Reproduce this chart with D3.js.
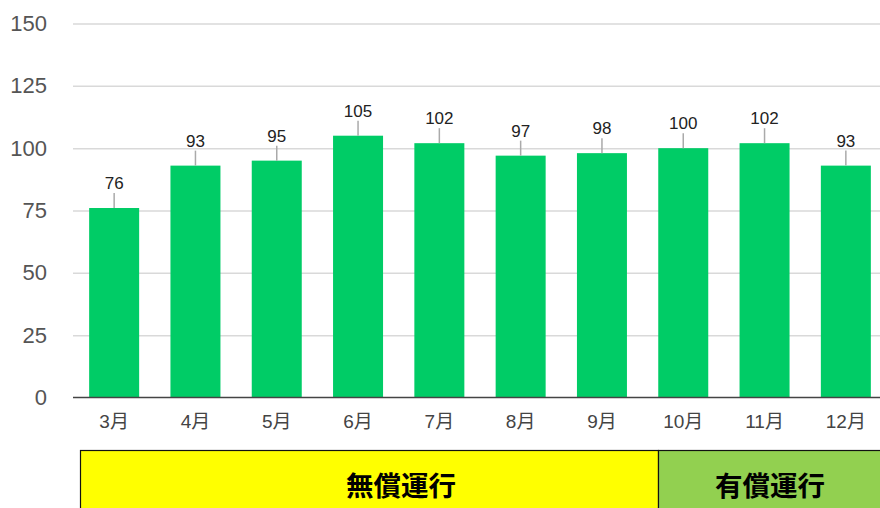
<!DOCTYPE html>
<html>
<head>
<meta charset="utf-8">
<script src="https://cdn.jsdelivr.net/npm/d3@7"></script>
<style>
  html, body { margin: 0; padding: 0; background: #fff; }
  svg { display: block; }
</style>
</head>
<body>
<div id="chart"></div>
<script>
const months = ["3月", "4月", "5月", "6月", "7月", "8月", "9月", "10月", "11月", "12月"];
const values = [76, 93, 95, 105, 102, 97, 98, 100, 102, 93];
const yTicks = [0, 25, 50, 75, 100, 125, 150];
const periods = ["無償運行", "有償運行"];
const periodStart = ["3月", "10月"];
const periodEnd = ["9月", "12月"];

const totalWidth = 880, totalHeight = 508;
const margin = {top: 23.5, left: 73, right: 0, bottom: 110.5};

const x = d3.scaleBand()
  .domain(months)
  .range([73.5, 886.5])
  .paddingInner(0.385)
  .paddingOuter(0.1925);

const y = d3.scaleLinear()
  .domain([0, 150])
  .range([totalHeight - margin.bottom, margin.top]);

const svg = d3.select('#chart').append('svg')
  .attr('width', totalWidth).attr('height', totalHeight)
  .style('font-family', 'Arial, "Liberation Sans", "Noto Sans CJK JP", sans-serif');

// gridlines + y labels
const yAxis = svg.append('g')
  .attr('transform', `translate(${margin.left},0)`)
  .call(d3.axisLeft(y).tickValues(yTicks).tickSize(0).tickPadding(26))
  .call(g => g.select('.domain').remove());
yAxis.selectAll('.tick text')
  .attr('font-size', '22px').attr('fill', '#555').attr('font-family', 'Arial, "Liberation Sans", sans-serif');
yAxis.selectAll('.tick line')
  .attr('x2', totalWidth - margin.left)
  .attr('stroke', '#d9d9d9')
  .attr('stroke-width', 1.5)
  .attr('opacity', d => d === 0 ? 0 : 1);

// bars
svg.append('g').selectAll('rect')
  .data(values)
  .join('rect')
  .attr('x', (d, i) => x(months[i]))
  .attr('width', x.bandwidth())
  .attr('y', d => y(d))
  .attr('height', d => y(0) - y(d))
  .attr('fill', '#00cc66');

// leader lines
svg.append('g').selectAll('line')
  .data(values)
  .join('line')
  .attr('x1', (d, i) => x(months[i]) + x.bandwidth() / 2)
  .attr('x2', (d, i) => x(months[i]) + x.bandwidth() / 2)
  .attr('y1', d => y(d))
  .attr('y2', d => y(d) - 15)
  .attr('stroke', '#aaa')
  .attr('stroke-width', 1.5);

// value labels
svg.append('g').selectAll('text')
  .data(values)
  .join('text')
  .attr('x', (d, i) => x(months[i]) + x.bandwidth() / 2)
  .attr('y', d => y(d) - 19)
  .attr('text-anchor', 'middle')
  .attr('font-size', '17px')
  .attr('fill', '#222')
  .text(d => d);

// x axis
const xAxis = svg.append('g')
  .attr('transform', `translate(0,${y(0)})`)
  .call(d3.axisBottom(x).tickSize(0).tickPadding(17))
  .call(g => g.select('.domain').attr('d', `M${margin.left},0H${totalWidth}`).attr('stroke', '#444').attr('stroke-width', 1.5));
xAxis.selectAll('.tick text')
  .attr('font-size', '19px').attr('fill', '#444')
  .attr('font-family', 'Arial, "Liberation Sans", "Noto Sans CJK JP", sans-serif');

// period band
const bandX = d3.scaleBand().domain(months).range([80, 80 + 578 / 7 * 10]).padding(0);
const band = svg.append('g');
const fills = ["#ffff00", "#92d050"];
const labelShift = [31, 0];
periods.forEach((p, i) => {
  const x0 = bandX(periodStart[i]);
  const last = i === periods.length - 1;
  const x1 = last ? totalWidth + 5 : bandX(periodEnd[i]) + bandX.bandwidth();
  band.append('rect')
    .attr('x', x0 + 0.5).attr('y', 450.5)
    .attr('width', x1 - x0).attr('height', 70)
    .attr('fill', fills[i])
    .attr('stroke', '#111').attr('stroke-width', 1.2);
  band.append('text')
    .attr('x', (x0 + Math.min(x1, totalWidth)) / 2 + labelShift[i] + 1)
    .attr('y', 484)
    .attr('dominant-baseline', 'central')
    .attr('text-anchor', 'middle')
    .attr('font-size', '27.5px')
    .attr('font-weight', 'bold')
    .attr('font-family', '"Noto Sans CJK JP", sans-serif')
    .attr('fill', '#000')
    .text(p);
});
</script>
</body>
</html>
